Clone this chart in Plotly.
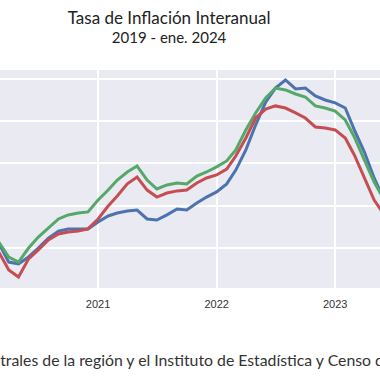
import plotly.graph_objects as go

months = [
    "2020-03-01", "2020-04-01", "2020-05-01", "2020-06-01", "2020-07-01", "2020-08-01",
    "2020-09-01", "2020-10-01", "2020-11-01", "2020-12-01", "2021-01-01", "2021-02-01",
    "2021-03-01", "2021-04-01", "2021-05-01", "2021-06-01", "2021-07-01", "2021-08-01",
    "2021-09-01", "2021-10-01", "2021-11-01", "2021-12-01", "2022-01-01", "2022-02-01",
    "2022-03-01", "2022-04-01", "2022-05-01", "2022-06-01", "2022-07-01", "2022-08-01",
    "2022-09-01", "2022-10-01", "2022-11-01", "2022-12-01", "2023-01-01", "2023-02-01",
    "2023-03-01", "2023-04-01", "2023-05-01", "2023-06-01",
]

serie_azul = [
    2.26, 1.36, 1.27, 1.60, 2.02, 2.49, 2.82, 2.92, 2.92, 2.92, 3.25, 3.53,
    3.67, 3.76, 3.81, 3.39, 3.34, 3.58, 3.86, 3.81, 4.14, 4.42, 4.66, 5.04,
    5.69, 6.64, 7.81, 8.89, 9.55, 9.93, 9.51, 9.55, 9.18, 8.99, 8.85, 8.61,
    7.58, 6.54, 5.32, 4.28,
]
serie_verde = [
    2.31, 1.60, 1.36, 2.02, 2.54, 2.96, 3.39, 3.58, 3.67, 3.72, 4.28, 4.75,
    5.22, 5.60, 5.88, 5.22, 4.80, 4.99, 5.08, 5.04, 5.41, 5.60, 5.84, 6.12,
    6.64, 7.58, 8.38, 9.08, 9.55, 9.46, 9.27, 9.13, 8.71, 8.61, 8.47, 8.05,
    7.25, 6.16, 5.13, 4.28,
]
serie_roja = [
    1.84, 0.99, 0.66, 1.51, 1.93, 2.40, 2.68, 2.78, 2.82, 2.92, 3.39, 4.00,
    4.47, 5.04, 5.36, 4.75, 4.42, 4.61, 4.71, 4.75, 5.08, 5.32, 5.46, 5.74,
    6.35, 7.20, 8.14, 8.56, 8.71, 8.61, 8.38, 8.14, 7.72, 7.67, 7.58, 7.20,
    6.40, 5.32, 4.28, 3.58,
]

titulo = ("<span style='font-size:17px'>Tasa de Inflación Interanual</span>"
          "<br>2019 - ene. 2024")
fuente = "Fuente: datos de los bancos centrales de la región y el Instituto de Estadística y Censo de Panamá."

fig = go.Figure()
for nombre, vals, color in [
    ("Serie 1", serie_azul, "#4c72b0"),
    ("Serie 2", serie_verde, "#55a868"),
    ("Serie 3", serie_roja, "#c44e52"),
]:
    fig.add_trace(go.Scatter(x=months, y=vals, mode="lines", name=nombre,
                             line=dict(color=color, width=3)))

fig.update_layout(
    width=380, height=380,
    template="seaborn",
    showlegend=False,
    margin=dict(l=0, r=0, t=70, b=92),
    plot_bgcolor="#EAEAF2",
    paper_bgcolor="white",
    title=dict(text=titulo, x=0.445, xanchor="center", y=0.937, yanchor="middle",
               yref="container", font=dict(family="Lato", size=15, color="#222")),
    annotations=[dict(text=fuente, xref="paper", yref="paper", x=-0.584, y=-0.33,
                      xanchor="left", yanchor="middle", showarrow=False,
                      font=dict(family="Lato", size=15.8, color="#333"))],
)
fig.update_xaxes(range=["2020-03-05", "2023-05-19"], dtick="M12", tickformat="%Y",
                 showgrid=True, gridcolor="white", gridwidth=2, ticks="",
                 ticklabelstandoff=8,
                 tickfont=dict(family="Liberation Sans", size=11, color="#333"),
                 zeroline=False)
fig.update_yaxes(range=[0.14, 10.4], dtick=2, showticklabels=False,
                 showgrid=True, gridcolor="white", gridwidth=2, ticks="", zeroline=False)

fig.write_html("out.html", config={"displayModeBar": False},
               post_script="document.body.style.margin='0';")
